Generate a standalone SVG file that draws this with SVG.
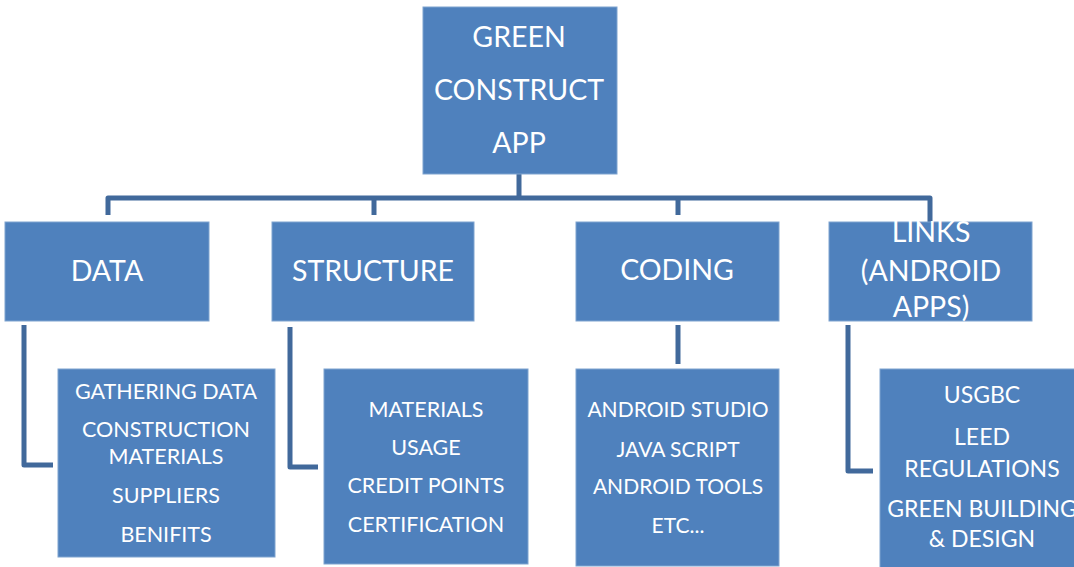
<svg xmlns="http://www.w3.org/2000/svg" width="1074" height="567" viewBox="0 0 1074 567">
<style>
.box{fill:#4F81BD;stroke:#7FA3CF;stroke-width:1}
.t{fill:#FFFFFF;font-family:Lato,"Open Sans","Liberation Sans",sans-serif;text-anchor:middle}
.big{font-size:28.5px}
.sm{font-size:21.5px}
.cd{font-size:21px}
.md{font-size:23px}
.c{fill:none;stroke:#41699B;stroke-width:5;stroke-linejoin:round}
</style>
<rect width="1074" height="567" fill="#FFFFFF"/>
<g id="connectors">
<path class="c" d="M519,174 V198"/>
<path class="c" d="M108,215 V198 H930 V222"/>
<path class="c" d="M374,198 V215"/>
<path class="c" d="M678,198 V215"/>
<path class="c" d="M24,325 V465 H53"/>
<path class="c" d="M290,327 V467 H318"/>
<path class="c" d="M678,325 V364"/>
<path class="c" d="M848,325 V471 H873"/>
</g>
<g id="root">
<rect class="box" x="423" y="7" width="194" height="167"/>
<text class="t big" x="519" y="47">GREEN</text>
<text class="t big" x="519" y="100">CONSTRUCT</text>
<text class="t big" x="519" y="153">APP</text>
</g>
<g id="data">
<rect class="box" x="5" y="222" width="204" height="99"/>
<text class="t big" x="107" y="281">DATA</text>
</g>
<g id="structure">
<rect class="box" x="272" y="222" width="202" height="99"/>
<text class="t big" x="373" y="281">STRUCTURE</text>
</g>
<g id="coding">
<rect class="box" x="576" y="222" width="203" height="99"/>
<text class="t big" x="677" y="280">CODING</text>
</g>
<g id="links">
<rect class="box" x="829" y="222" width="203" height="99"/>
<text class="t big" x="931" y="242">LINKS</text>
<text class="t big" x="931" y="281">(ANDROID</text>
<text class="t big" x="931" y="317">APPS)</text>
</g>
<g id="data-items">
<rect class="box" x="58" y="369" width="217" height="188"/>
<text class="t sm" x="166" y="399">GATHERING DATA</text>
<text class="t sm" x="166" y="437">CONSTRUCTION</text>
<text class="t sm" x="166" y="464">MATERIALS</text>
<text class="t sm" x="166" y="503">SUPPLIERS</text>
<text class="t sm" x="166" y="542">BENIFITS</text>
</g>
<g id="structure-items">
<rect class="box" x="324" y="369" width="204" height="195"/>
<text class="t sm" x="426" y="417">MATERIALS</text>
<text class="t sm" x="426" y="455">USAGE</text>
<text class="t sm" x="426" y="493">CREDIT POINTS</text>
<text class="t sm" x="426" y="532">CERTIFICATION</text>
</g>
<g id="coding-items">
<rect class="box" x="576" y="369" width="203" height="197"/>
<text class="t cd" x="678" y="417">ANDROID STUDIO</text>
<text class="t cd" x="678" y="457">JAVA SCRIPT</text>
<text class="t cd" x="678" y="494">ANDROID TOOLS</text>
<text class="t cd" x="678" y="533">ETC...</text>
</g>
<g id="links-items">
<rect class="box" x="880" y="369" width="204" height="200"/>
<text class="t md" x="982" y="403">USGBC</text>
<text class="t md" x="982" y="445">LEED</text>
<text class="t md" x="982" y="477">REGULATIONS</text>
<text class="t md" x="982" y="517">GREEN BUILDING</text>
<text class="t md" x="982" y="547">&amp; DESIGN</text>
</g>
</svg>
